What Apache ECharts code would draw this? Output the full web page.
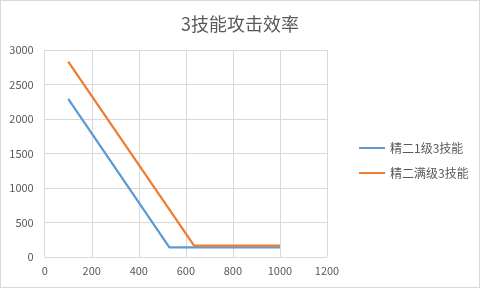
<!DOCTYPE html>
<html><head><meta charset="utf-8">
<script src="https://cdn.jsdelivr.net/npm/echarts@6/dist/echarts.min.js"></script>
<style>html,body{margin:0;padding:0;background:#fff}#c{width:480px;height:288px;box-sizing:border-box;border:1px solid #d9d9d9}</style>
</head><body><div id="c"></div>
<script>
const titleText = '3技能攻击效率';
const seriesNames = ['精二1级3技能', '精二满级3技能'];
const blueX = [100, 530, 1000];
const blueY = [2290, 140, 140];
const orangeX = [100, 635, 1000];
const orangeY = [2830, 165, 165];
const colors = ['#5B9BD5', '#ED7D31'];

const font = '"Noto Sans CJK SC", "Microsoft YaHei", sans-serif';
const chart = echarts.init(document.getElementById('c'));
function pairs(xs, ys) { return xs.map((x, i) => [x, ys[i]]); }
const plain = v => String(v);
chart.setOption({
  animation: false,
  title: { text: titleText, left: 'center', top: 9, textStyle: { fontFamily: font, fontSize: 18, fontWeight: 'normal', color: '#595959' } },
  grid: { left: 43.7, right: 152, top: 49, bottom: 30 },
  legend: {
    orient: 'vertical', left: 353, top: 136, itemGap: 13,
    itemWidth: 26, itemHeight: 2, icon: 'rect',
    textStyle: { fontFamily: font, fontSize: 12, color: '#595959' },
    data: seriesNames
  },
  xAxis: {
    type: 'value', min: 0, max: 1200, interval: 200,
    axisLine: { show: false }, axisTick: { show: false },
    splitLine: { show: true, lineStyle: { color: '#d9d9d9' } },
    axisLabel: { fontFamily: font, fontSize: 11, color: '#595959', margin: 8, formatter: plain }
  },
  yAxis: {
    type: 'value', min: 0, max: 3000, interval: 500,
    axisLine: { show: false }, axisTick: { show: false },
    splitLine: { show: true, lineStyle: { color: '#d9d9d9' } },
    axisLabel: { fontFamily: font, fontSize: 11, color: '#595959', margin: 11, formatter: plain }
  },
  series: [
    { name: seriesNames[0], type: 'line', data: pairs(blueX, blueY), symbol: 'none', lineStyle: { width: 2.25, color: colors[0] }, itemStyle: { color: colors[0] } },
    { name: seriesNames[1], type: 'line', data: pairs(orangeX, orangeY), symbol: 'none', lineStyle: { width: 2.25, color: colors[1] }, itemStyle: { color: colors[1] } }
  ]
});
</script></body></html>
